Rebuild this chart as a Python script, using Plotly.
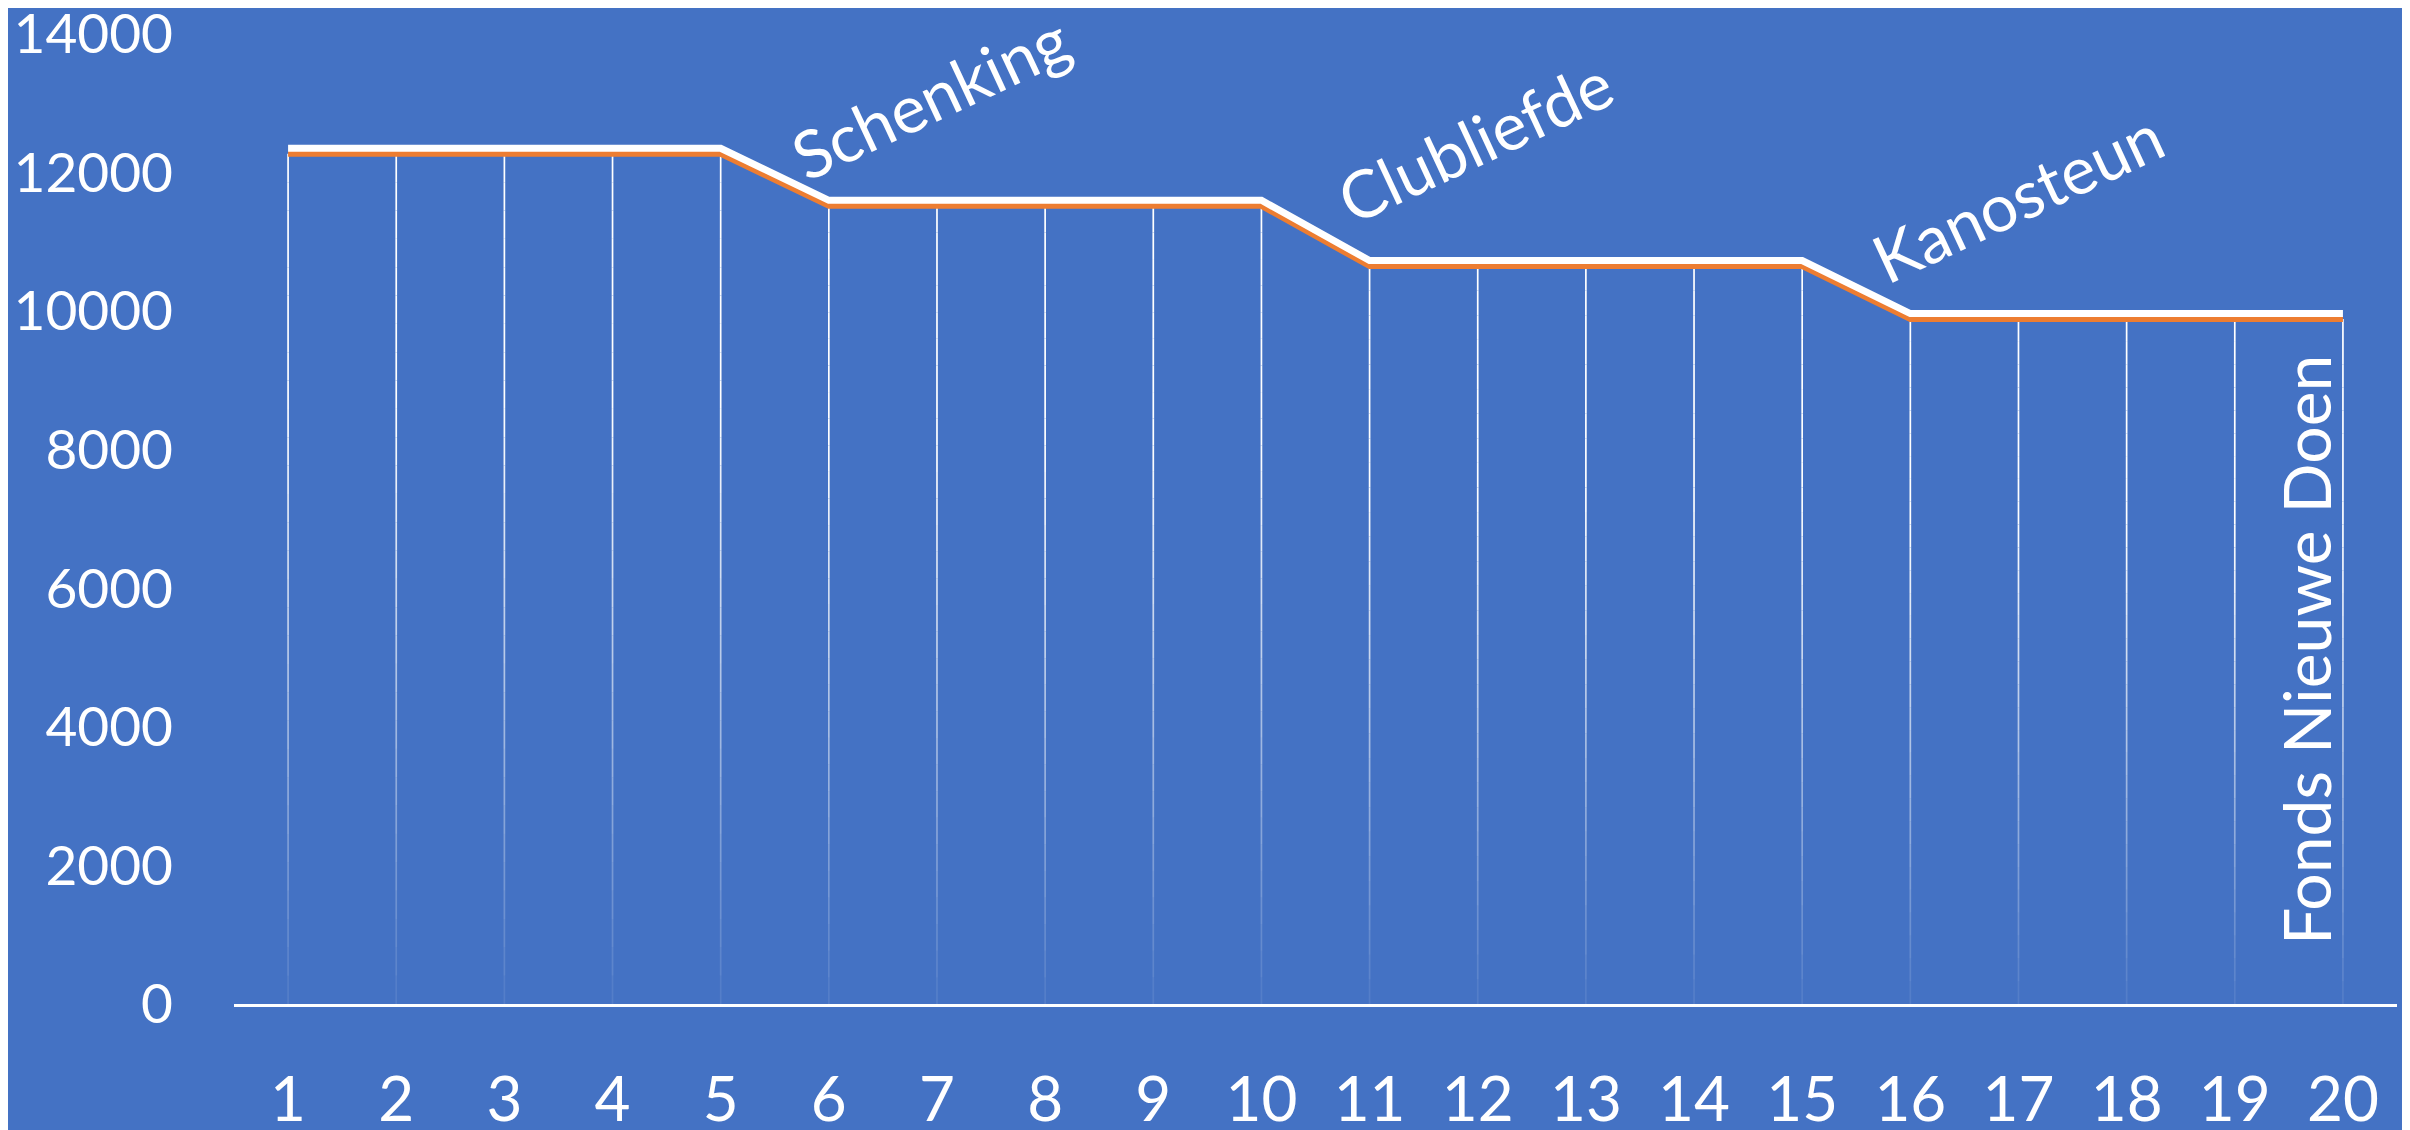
import plotly.graph_objects as go

categories = list(range(1, 21))
white_values = [12350, 12350, 12350, 12350, 12350,
                11600, 11600, 11600, 11600, 11600,
                10730, 10730, 10730, 10730, 10730,
                9965, 9965, 9965, 9965, 9965]
orange_values = [12270, 12270, 12270, 12270, 12270,
                 11520, 11520, 11520, 11520, 11520,
                 10650, 10650, 10650, 10650, 10650,
                 9885, 9885, 9885, 9885, 9885]
y_tick_vals = [0, 2000, 4000, 6000, 8000, 10000, 12000, 14000]
y_tick_text = ["0", "2000", "4000", "6000", "8000", "10000", "12000", "14000"]
label_texts = ["Schenking", "Clubliefde", "Kanosteun", "Fonds Nieuwe Doen"]
label_x = [6.94, 11.97, 16.99, 19.66]
label_y = [13100, 12470, 11650, 5110]
label_angles = [-25, -25, -25, -90]

BG = "#4472C4"
FONT = "Lato, Carlito, Calibri, sans-serif"

fig = go.Figure()

# drop lines with fading gradient (segmented)
N = 30
for k in range(N):
    t = (k + 0.5) / N
    alpha = 1.0 if t < 0.3 else 1.0 - (t - 0.3) / 0.7 * 0.93
    xs, ys = [], []
    for c, v in zip(categories, orange_values):
        xs += [c, c, None]
        ys += [v * (1 - k / N), v * (1 - (k + 1) / N), None]
    fig.add_trace(go.Scatter(x=xs, y=ys, mode="lines",
                             line=dict(color=f"rgba(255,255,255,{alpha:.3f})", width=1.7),
                             hoverinfo="skip", showlegend=False))

fig.add_trace(go.Scatter(x=categories, y=orange_values, mode="lines",
                         line=dict(color="#ED7D31", width=6), showlegend=False))
fig.add_trace(go.Scatter(x=categories, y=white_values, mode="lines",
                         line=dict(color="#FFFFFF", width=7), showlegend=False))

for txt, x, y, a in zip(label_texts, label_x, label_y, label_angles):
    fig.add_annotation(x=x, y=y, xref="x", yref="y", text=txt, showarrow=False,
                       textangle=a, xanchor="center", yanchor="middle",
                       font=dict(family=FONT, size=66, color="white"))

fig.update_layout(
    width=2410, height=1130,
    paper_bgcolor=BG, plot_bgcolor=BG,
    margin=dict(l=226, r=21, t=26, b=134),
    showlegend=False,
    font=dict(family=FONT, color="white"),
)
fig.update_xaxes(range=[0.5, 20.5], tickvals=categories, ticktext=[str(c) for c in categories],
                 showgrid=False, zeroline=False, showline=True, linecolor="white", linewidth=3,
                 ticks="", ticklabelstandoff=40, automargin=False, ticklabeloverflow="allow",
                 tickfont=dict(family=FONT, size=62, color="white"))
fig.update_yaxes(range=[0, 14000], tickvals=y_tick_vals, ticktext=y_tick_text,
                 showgrid=False, zeroline=False, automargin=False, ticklabeloverflow="allow",
                 showline=False, ticks="", ticklabelstandoff=60,
                 tickfont=dict(family=FONT, size=55, color="white"))

fig.write_html("out.html")
